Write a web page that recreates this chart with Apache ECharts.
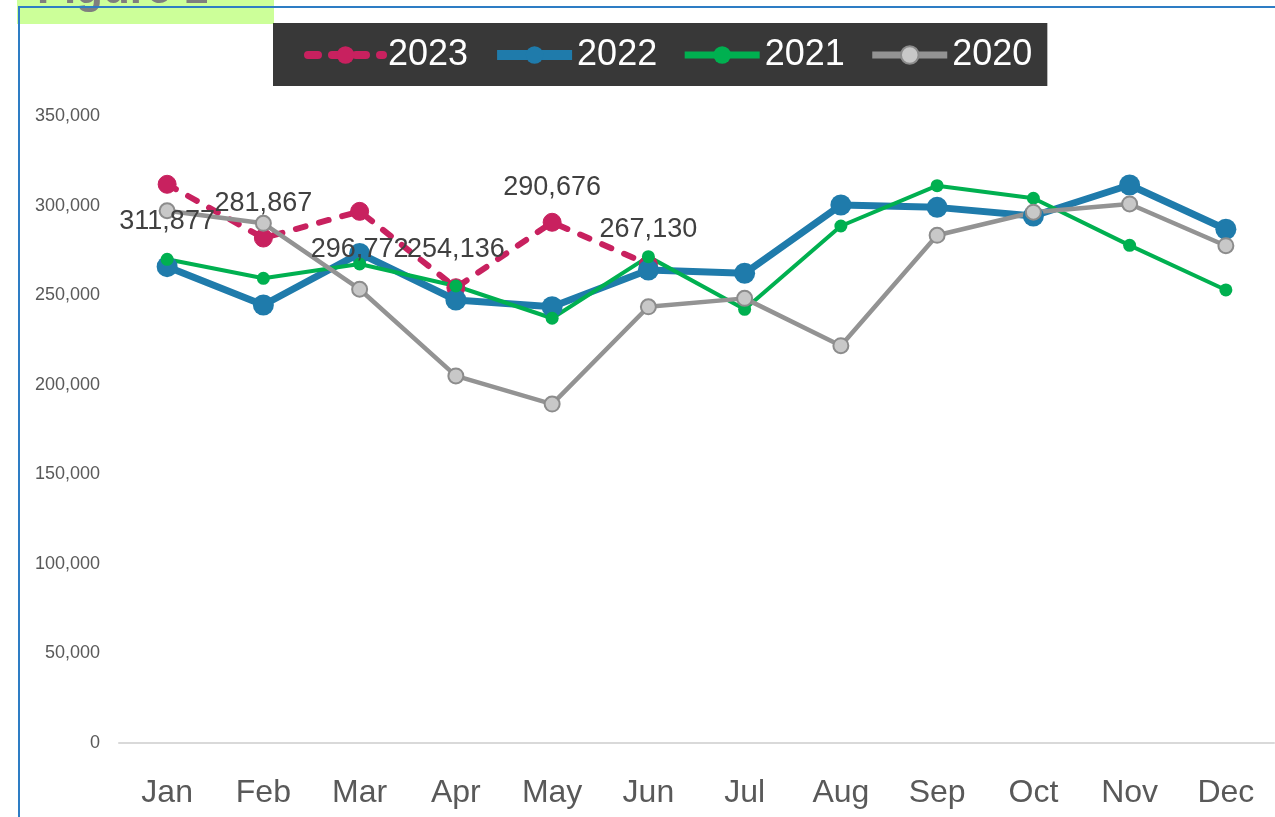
<!DOCTYPE html>
<html>
<head>
<meta charset="utf-8">
<script src="https://cdn.jsdelivr.net/npm/echarts@6/dist/echarts.min.js"></script>
<style>
  html, body { margin: 0; padding: 0; background: #fff; }
  #main { width: 1275px; height: 817px; }
</style>
</head>
<body>
<div id="main"></div>
<script>
// data
var months = ['Jan', 'Feb', 'Mar', 'Apr', 'May', 'Jun', 'Jul', 'Aug', 'Sep', 'Oct', 'Nov', 'Dec'];
var y2023 = [311877, 281867, 296772, 254136, 290676, 267130];
var y2022 = [265900, 244500, 273300, 247300, 243500, 264000, 262200, 300300, 299000, 294200, 311500, 286800];
var y2021 = [270000, 259400, 267400, 255100, 237100, 271500, 242100, 288600, 311100, 304100, 277800, 252900];
var y2020 = [297100, 290100, 253300, 204900, 189200, 243500, 248200, 221800, 283400, 296300, 300900, 277600];
var yTicks = [0, 50000, 100000, 150000, 200000, 250000, 300000, 350000];
// label offsets for the 2023 values (above / below the point)
var labelShift = [37, -35, 38, -38, -35, -35];

var font = "'Liberation Sans', Arial, sans-serif";

function fmt(v) {
  return String(v).replace(/\B(?=(\d{3})+(?!\d))/g, ',');
}

var myChart = echarts.init(document.getElementById('main'));

var data2023 = y2023.map(function (v, i) {
  return {
    value: v,
    label: { offset: [0, labelShift[i]] }
  };
});

var option = {
  animation: false,
  backgroundColor: '#ffffff',
  graphic: [
    { type: 'rect', z: 1, shape: { x: 17, y: 0, width: 257, height: 24 }, style: { fill: '#CCFF99' } },
    { type: 'text', z: 2, style: { x: 37, y: 13, text: 'Figure 1', fill: '#7F7F7F', font: "bold 44px 'Liberation Sans', Arial, sans-serif", verticalAlign: 'bottom' } },
    { type: 'rect', z: 3, shape: { x: 19, y: 7, width: 1400, height: 1000 }, style: { fill: 'none', stroke: '#2E7DC4', lineWidth: 2 } }
  ],
  legend: {
    left: 273,
    top: 23,
    padding: [14, 15, 13, 31],
    backgroundColor: '#383838',
    itemWidth: 75,
    itemHeight: 22,
    itemGap: 24,
    textStyle: { color: '#ffffff', fontSize: 36, fontFamily: font },
    data: [
      { name: '2023', lineStyle: { width: 8 } },
      { name: '2022', lineStyle: { width: 10 } },
      { name: '2021', lineStyle: { width: 7 } },
      { name: '2020', lineStyle: { width: 7 } }
    ]
  },
  grid: { left: 119, right: 1, top: 116, bottom: 74, containLabel: false },
  xAxis: {
    type: 'category',
    data: months,
    boundaryGap: true,
    axisLine: { lineStyle: { color: '#D9D9D9', width: 2 } },
    axisTick: { show: false },
    axisLabel: { color: '#595959', fontSize: 32, fontFamily: font, margin: 34 }
  },
  yAxis: {
    type: 'value',
    min: 0,
    max: 350000,
    interval: 50000,
    axisLine: { show: false },
    axisTick: { show: false },
    splitLine: { show: false },
    axisLabel: {
      color: '#595959', fontSize: 18, fontFamily: font, margin: 19,
      formatter: function (v) { return yTicks.indexOf(v) >= 0 ? fmt(v) : ''; }
    }
  },
  series: [
    {
      name: '2023', type: 'line', data: data2023,
      symbol: 'circle', symbolSize: 18,
      lineStyle: { color: '#C8215F', width: 6, type: [10, 14], cap: 'round' },
      itemStyle: { color: '#C8215F', borderColor: '#C8215F' },
      label: {
        show: true, position: 'inside', color: '#404040',
        fontSize: 27, fontFamily: font,
        formatter: function (p) { return fmt(p.value); }
      }
    },
    {
      name: '2022', type: 'line', data: y2022,
      symbol: 'circle', symbolSize: 21,
      lineStyle: { color: '#1F7BAB', width: 7 },
      itemStyle: { color: '#1F7BAB' }
    },
    {
      name: '2021', type: 'line', data: y2021,
      symbol: 'circle', symbolSize: 13,
      lineStyle: { color: '#00B050', width: 4 },
      itemStyle: { color: '#00B050' }
    },
    {
      name: '2020', type: 'line', data: y2020,
      symbol: 'circle', symbolSize: 15,
      lineStyle: { color: '#939393', width: 4.5 },
      itemStyle: { color: '#C8C8C8', borderColor: '#8C8C8C', borderWidth: 2 }
    }
  ]
};

myChart.setOption(option);
</script>
</body>
</html>
